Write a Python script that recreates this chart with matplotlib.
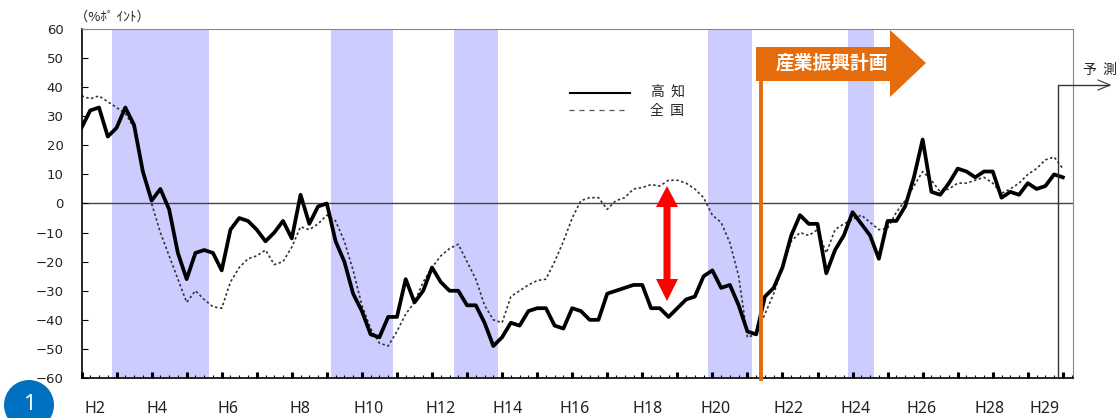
# business conditions DI, kochi vs whole country, quarterly H2 to H29
import numpy as np
import matplotlib
matplotlib.use("Agg")
import matplotlib.pyplot as plt
from matplotlib.patches import Circle, Polygon

plt.rcParams['font.family'] = ['Noto Sans CJK JP', 'DejaVu Sans']

kochi = [26, 32, 33, 23, 26, 33, 27, 11, 1, 5, -2, -17, -26, -17, -16, -17, -23, -9, -5, -6,
         -9, -13, -10, -6, -12, 3, -7, -1, 0, -13, -20, -31, -37, -45, -46, -39, -39, -26, -34, -30,
         -22, -27, -30, -30, -35, -35, -41, -49, -46, -41, -42, -37, -36, -36, -42, -43, -36, -37, -40, -40,
         -31, -30, -29, -28, -28, -36, -36, -39, -36, -33, -32, -25, -23, -29, -28, -35, -44, -45, -32, -29,
         -22, -11, -4, -7, -7, -24, -16, -11, -3, -7, -11, -19, -6, -6, -1, 9, 22, 4, 3, 7,
         12, 11, 9, 11, 11, 2, 4, 3, 7, 5, 6, 10, 9]
zenkoku = [37, 36, 37, 35, 33, 31, 26, 12, 0, -10, -18, -26, -34, -30, -33, -35.5, -36, -27, -22, -19,
           -18, -16, -21, -20, -15, -8, -9, -7, -4, -6, -13, -23, -35, -43, -48, -49, -44, -38, -34, -27,
           -22, -18, -15.5, -14, -20, -26, -35, -40, -41, -32, -30, -28, -26.5, -26, -20, -13, -5, 1, 2, 2,
           -2, 1, 2, 5, 5.5, 6.5, 6, 8, 8, 7, 5, 2, -4, -6.5, -13.5, -25, -46, -45, -38, -31,
           -22, -13, -10, -11, -9, -17, -9, -7, -5.5, -4, -6.5, -9, -8.5, -3, 1, 6, 11, 8, 4, 5,
           7, 7, 8, 9, 7, 3.5, 5, 7, 10, 12, 15, 16, 12]
recession_start = [3.5, 28.5, 42.5, 71.5, 87.5]
recession_end = [14.5, 35.5, 47.5, 76.5, 90.5]
xlabels = ["H2", "H4", "H6", "H8", "H10", "H12", "H14", "H16", "H18", "H20", "H22", "H24", "H26", "H28", "H29"]
xlabel_px = [95, 157, 228, 300, 369, 441, 508, 575, 648, 716, 789, 856, 922, 989, 1045]

W, H = 1118, 418
fig = plt.figure(figsize=(W/100, H/100), dpi=100)
ax = fig.add_axes([81.5/W, 1-378/H, 991/W, 349/H])
q = np.arange(len(kochi))

for a, b in zip(recession_start, recession_end):
    ax.axvspan(a, b, color="#ccccff", lw=0, zorder=0)
ax.axhline(0, color="#444444", lw=1, zorder=1)
ax.plot(q, zenkoku, color="#333333", lw=1.2, dashes=(1.5, 1.5), zorder=2)
ax.plot(q, kochi, color="black", lw=2.7, zorder=3)

ax.set_xlim(0, 113.1)
ax.set_ylim(-60, 60)
ax.set_yticks(np.arange(-60, 61, 10))
ax.set_xticks(np.arange(0, 113, 4))
ax.set_xticks(np.arange(0, 114, 1), minor=True)
ax.tick_params(axis="x", which="major", direction="in", length=4, width=2.2, labelbottom=False)
ax.tick_params(axis="x", which="minor", direction="in", length=2.5, width=0.8)
ax.tick_params(axis="y", direction="in", length=4, width=0.8, labelsize=9.5, pad=13, labelcolor="#222222")
for lab in ax.get_yticklabels():
    lab.set_family("DejaVu Sans")
for s in ["top", "right"]:
    ax.spines[s].set_color("#888888")
for s in ["left", "bottom"]:
    ax.spines[s].set_linewidth(1.2)

# everything else goes on a pixel overlay, y pointing down like the picture
ov = fig.add_axes([0, 0, 1, 1], facecolor="none")
ov.set_xlim(0, W)
ov.set_ylim(H, 0)
ov.axis("off")

ov.text(75, 17, "（%ﾎﾟ ｲﾝﾄ）", fontsize=9.5, va="center", color="#222222")
for lab, x in zip(xlabels, xlabel_px):
    ov.text(x, 409, lab, fontsize=11.5, family="Noto Sans", ha="center", va="center", color="#222222")

# legend, by hand
ov.plot([570, 630], [93, 93], color="black", lw=1.5)
ov.plot([569, 626], [110, 110], color="#555555", lw=0.9, dashes=(4, 4))
ov.text(651, 92, "高  知", fontsize=10, va="center", color="#222222")
ov.text(650, 111, "全  国", fontsize=10, va="center", color="#222222")

# industry plan arrow + start line
orange = "#e46c0a"
ov.plot([760.5, 760.5], [80, 381], color=orange, lw=2.8, solid_capstyle="butt")
ov.add_patch(Polygon([(756, 47), (890, 47), (890, 30), (926, 63), (890, 97), (890, 81), (756, 81)],
                     closed=True, color=orange, lw=0))
ov.text(832, 63, "産業振興計画", color="white", fontsize=13.5, fontweight="bold", ha="center", va="center")

# gap arrow
ov.add_patch(Polygon([(667, 186), (678, 207), (670.5, 207), (670.5, 279), (678, 279), (667, 301),
                      (656, 279), (663.5, 279), (663.5, 207), (656, 207)],
                     closed=True, color="red", lw=0))

# forecast marker
ov.plot([1058, 1058, 1109], [378, 85, 85], color="#333333", lw=1)
ov.plot([1098, 1110, 1098], [80, 85, 90], color="#333333", lw=0.8)
ov.text(1083, 70, "予  測", fontsize=10, va="center", color="#222222")

# page number badge
ov.add_patch(Circle((29, 405), 25, color="#0070c0", lw=0, clip_on=False))
ov.text(29, 404, "1", color="white", fontsize=16, family="Noto Sans", ha="center", va="center")

plt.savefig("out.png", dpi=100)
